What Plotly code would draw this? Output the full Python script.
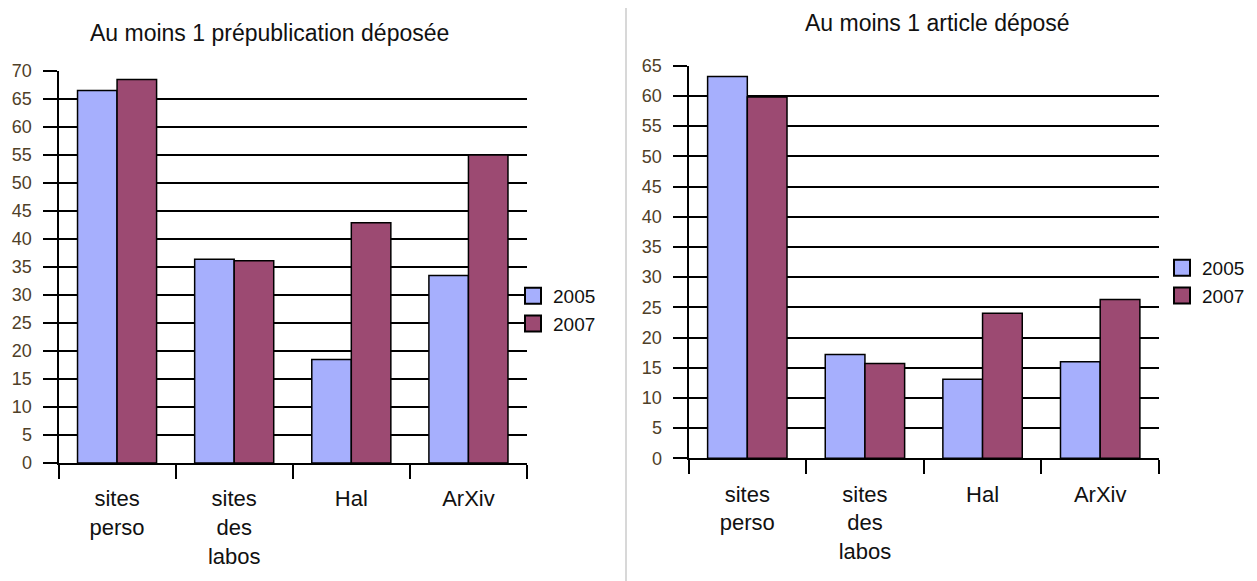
import plotly.graph_objects as go

categories = ["sites<br>perso", "sites<br>des<br>labos", "Hal", "ArXiv"]
series_names = ["2005", "2007"]
prepub_2005 = [66.5, 36.4, 18.5, 33.5]
prepub_2007 = [68.5, 36.1, 42.9, 55.0]
article_2005 = [63.2, 17.2, 13.1, 16.0]
article_2007 = [59.8, 15.7, 24.0, 26.3]
left_title = "Au moins 1 prépublication déposée"
right_title = "Au moins 1 article déposé"

colors = {"2005": "#A6AFFD", "2007": "#9C4A72"}
W, H = 1257, 581
OFF = 8  # default page body margin
FONT = "Liberation Sans, Arial, sans-serif"


def px(v):
    return (v - OFF) / W


def py(v):
    return 1 - (v - OFF) / H


fig = go.Figure()
panels = [("x", "y", "legend", [prepub_2005, prepub_2007]),
          ("x2", "y2", "legend2", [article_2005, article_2007])]
for xa, ya, lg, series in panels:
    for name, vals in zip(series_names, series):
        fig.add_trace(go.Bar(x=categories, y=vals, name=name, xaxis=xa, yaxis=ya,
                             marker=dict(color=colors[name], line=dict(color="black", width=1.5)),
                             showlegend=False))
    for name in series_names:
        fig.add_trace(go.Scatter(x=[None], y=[None], name=name, xaxis=xa, yaxis=ya, mode="markers",
                                 marker=dict(symbol="square", size=16, color=colors[name],
                                             line=dict(color="black", width=2)),
                                 legend=lg, hoverinfo="skip"))

xcommon = dict(type="category", showgrid=False, showline=True, linecolor="black", linewidth=2,
               ticks="outside", ticklen=14, tickwidth=2, tickcolor="black", tickson="boundaries",
               tickfont=dict(family=FONT, size=22, color="#111111"), zeroline=False,
               ticklabelstandoff=15, fixedrange=True, automargin=False)
ycommon = dict(showgrid=True, gridcolor="black", gridwidth=2, showline=True, linecolor="black",
               linewidth=2, ticks="outside", ticklen=14, tickwidth=2, tickcolor="black", dtick=5,
               tickfont=dict(family=FONT, size=18, color="#4f4028"), zeroline=False,
               ticklabelstandoff=7, fixedrange=True, automargin=False)

fig.update_layout(
    width=W, height=H, margin=dict(l=0, r=0, t=0, b=0, autoexpand=False),
    paper_bgcolor="white", plot_bgcolor="white",
    barmode="group", bargap=0.325, bargroupgap=0,
    font=dict(family=FONT),
    xaxis=dict(domain=[px(58.5), px(527)], anchor="y", **xcommon),
    yaxis=dict(domain=[py(463), py(71)], range=[0, 70], anchor="x", **ycommon),
    xaxis2=dict(domain=[px(688.5), px(1159)], anchor="y2", **xcommon),
    yaxis2=dict(domain=[py(458.3), py(65.7)], range=[0, 65], anchor="x2", **ycommon),
    legend=dict(x=px(513), y=py(277), xanchor="left", yanchor="top", bgcolor="rgba(0,0,0,0)",
                tracegroupgap=2, font=dict(family=FONT, size=19, color="#111111")),
    legend2=dict(x=px(1162), y=py(249), xanchor="left", yanchor="top", bgcolor="rgba(0,0,0,0)",
                 tracegroupgap=2, font=dict(family=FONT, size=19, color="#111111")),
    annotations=[
        dict(text=left_title, x=px(269), y=py(33), xref="paper", yref="paper", showarrow=False,
             xanchor="center", yanchor="middle", font=dict(family=FONT, size=23, color="#111111")),
        dict(text=right_title, x=px(937), y=py(23), xref="paper", yref="paper", showarrow=False,
             xanchor="center", yanchor="middle", font=dict(family=FONT, size=23, color="#111111")),
    ],
    shapes=[dict(type="line", xref="paper", yref="paper", x0=px(626), x1=px(626), y0=0, y1=py(8),
                 line=dict(color="#d8d8d8", width=2))],
)

fig.write_html("out.html")
